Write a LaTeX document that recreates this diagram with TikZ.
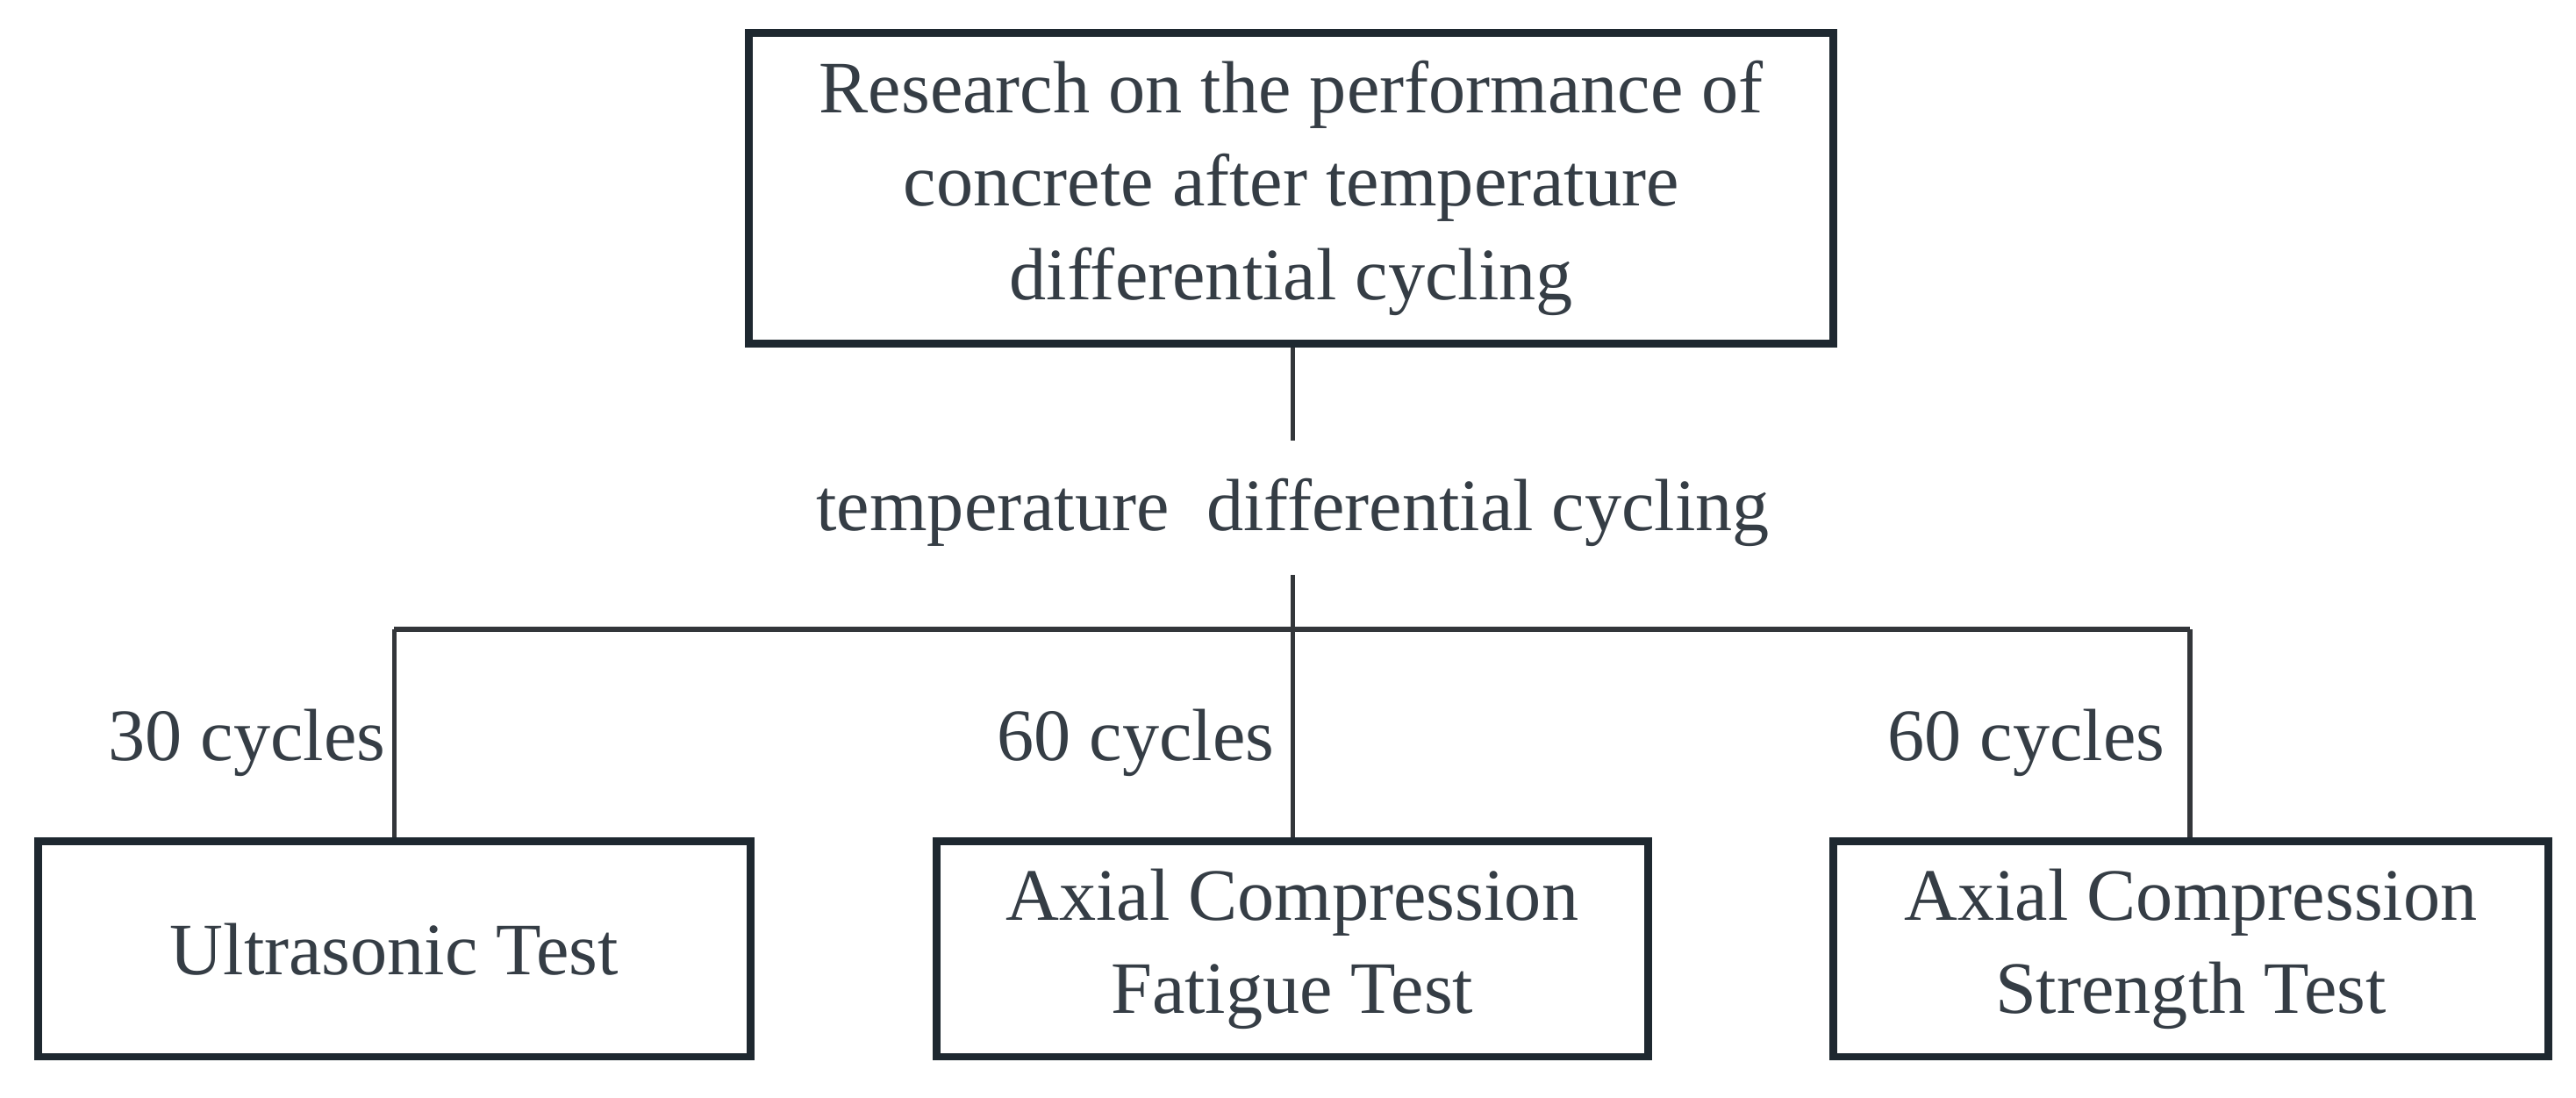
\documentclass[tikz,border=0pt]{standalone}
\usepackage{fontspec}
\setmainfont{Liberation Serif}
\definecolor{boxc}{HTML}{1E2830}
\definecolor{linec}{HTML}{33363A}
\begin{document}
\begin{tikzpicture}[x=0.5pt,y=-0.5pt,
  box/.style={draw=boxc,line width=2.4pt,align=center,inner sep=0pt,font=\fontsize{22.5}{28.5}\selectfont,text=boxc!90},
  lbl/.style={font=\fontsize{22.5}{28.5}\selectfont,text=boxc!90,inner sep=0pt},
  conn/.style={draw=linec,line width=1.5pt}]
\useasboundingbox (0,0) rectangle (1568,668);
\node[box,minimum width=330pt,minimum height=94.5pt] (top) at (786,114.5) {Research on the performance of\\concrete after temperature\\differential cycling};
\node[lbl] (mid) at (787,312) {temperature\ \ differential cycling};
\node[box,minimum width=217pt,minimum height=65.5pt] (b1) at (240,577.5) {Ultrasonic Test};
\node[box,minimum width=216.5pt,minimum height=65.5pt] (b2) at (786.5,577.5) {Axial Compression\\Fatigue Test};
\node[box,minimum width=217.5pt,minimum height=65.5pt] (b3) at (1333.5,577.5) {Axial Compression\\Strength Test};
\coordinate (t1) at (787,268);
\coordinate (t2) at (787,350);
\coordinate (j) at (787,383);
\coordinate (jl) at (240,383);
\coordinate (jr) at (1333,383);
\draw[conn] (top.south -| t1) -- (t1);
\draw[conn] (t2) -- (j);
\draw[conn] (jl) -- (jr);
\draw[conn] (jl) -- (jl |- b1.north);
\draw[conn] (j) -- (j |- b2.north);
\draw[conn] (jr) -- (jr |- b3.north);
\node[lbl,anchor=east] (l1) at (235,452) {30 cycles};
\node[lbl,anchor=east] (l2) at (776,452) {60 cycles};
\node[lbl,anchor=east] (l3) at (1318,452) {60 cycles};
\end{tikzpicture}
\end{document}
